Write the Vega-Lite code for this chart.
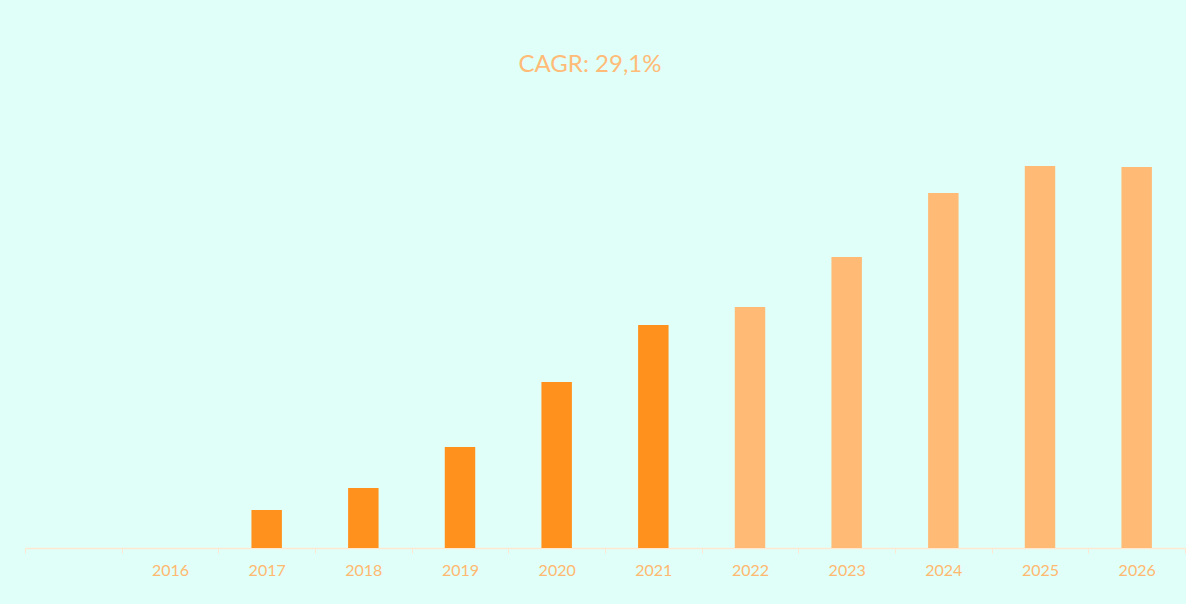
{
  "$schema": "https://vega.github.io/schema/vega-lite/v6.json",
  "width": 1160,
  "height": 448,
  "autosize": {"type": "none"},
  "padding": {"left": 25, "top": 100, "right": 1, "bottom": 56},
  "background": "#E0FFF8",
  "title": {
    "text": "CAGR: 29,1%",
    "color": "#FFBB77",
    "font": "Lato",
    "fontSize": 24,
    "fontWeight": "normal",
    "anchor": "middle",
    "baseline": "alphabetic",
    "dx": -15,
    "offset": 4
  },
  "config": {"view": {"stroke": null}},
  "data": {
    "values": [
      {"year": "2016", "value": 0, "type": "actual"},
      {"year": "2017", "value": 3.8, "type": "actual"},
      {"year": "2018", "value": 6.0, "type": "actual"},
      {"year": "2019", "value": 10.1, "type": "actual"},
      {"year": "2020", "value": 16.6, "type": "actual"},
      {"year": "2021", "value": 22.3, "type": "actual"},
      {"year": "2022", "value": 24.1, "type": "forecast"},
      {"year": "2023", "value": 29.1, "type": "forecast"},
      {"year": "2024", "value": 35.5, "type": "forecast"},
      {"year": "2025", "value": 38.2, "type": "forecast"},
      {"year": "2026", "value": 38.1, "type": "forecast"}
    ]
  },
  "mark": {"type": "bar", "width": {"band": 0.315}},
  "encoding": {
    "x": {
      "field": "year",
      "type": "nominal",
      "sort": null,
      "scale": {
        "domain": [" ", "2016", "2017", "2018", "2019", "2020", "2021", "2022", "2023", "2024", "2025", "2026"],
        "paddingInner": 0,
        "paddingOuter": 0
      },
      "axis": {
        "title": null,
        "labelAngle": 0,
        "labelFont": "Lato",
        "labelFontSize": 16,
        "labelColor": "#FFB870",
        "labelPadding": 9,
        "domainColor": "#FFE8D2",
        "domainWidth": 1.5,
        "tickColor": "#FFE8D2",
        "tickSize": 5,
        "tickBand": "extent",
        "grid": false
      }
    },
    "y": {
      "field": "value",
      "type": "quantitative",
      "scale": {"domain": [0, 44.8], "nice": false},
      "axis": null
    },
    "color": {
      "field": "type",
      "type": "nominal",
      "scale": {"domain": ["actual", "forecast"], "range": ["#FF911C", "#FFBB75"]},
      "legend": null
    }
  }
}
